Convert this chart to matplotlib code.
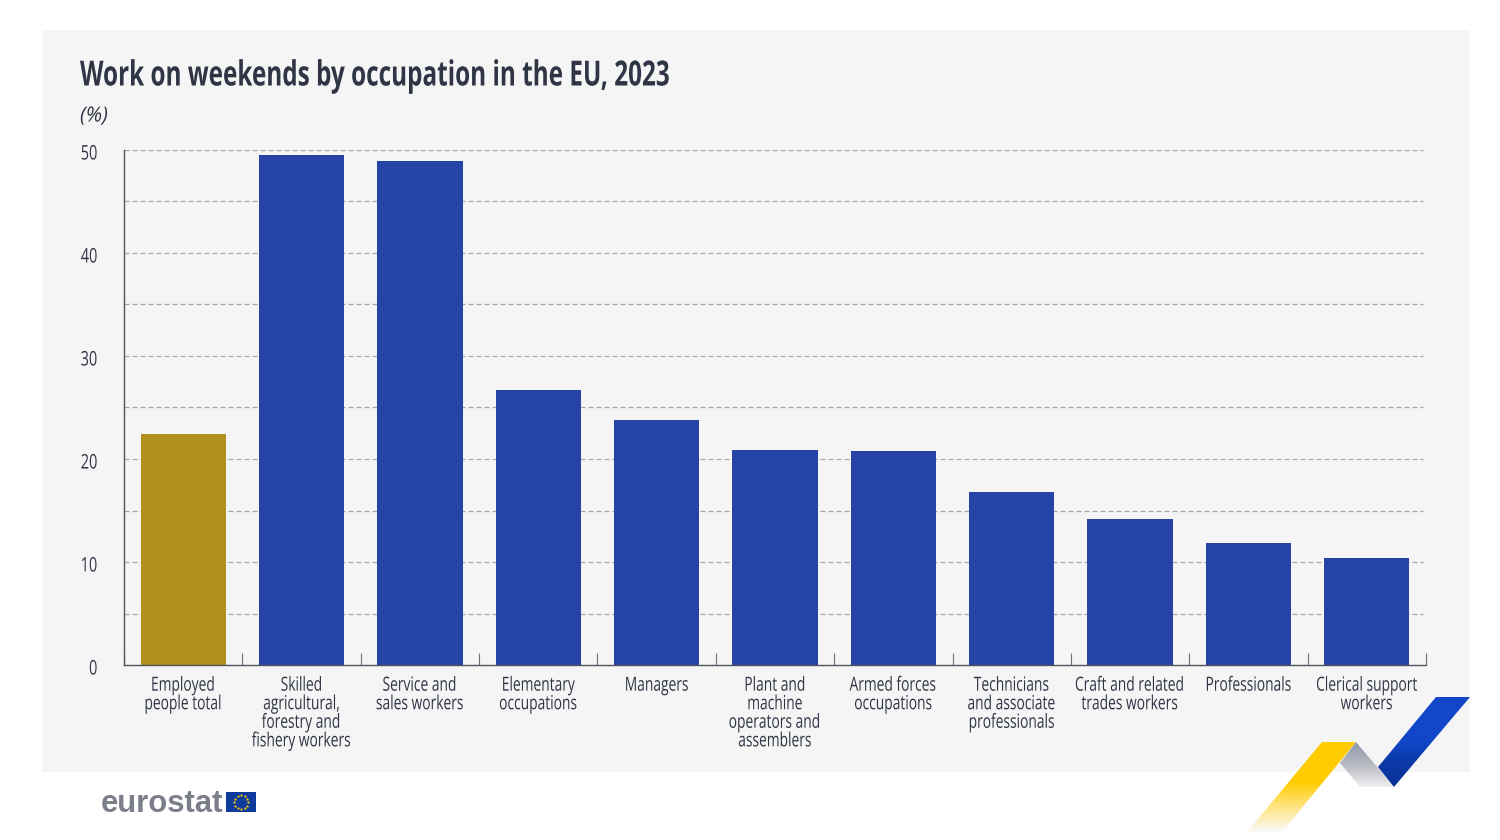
import numpy as np
import matplotlib
matplotlib.use("Agg")
import matplotlib.pyplot as plt
import matplotlib.patheffects as pe
from matplotlib.patches import Polygon, Rectangle
from matplotlib.colors import LinearSegmentedColormap
from matplotlib.transforms import Affine2D, Bbox, ScaledTranslation

# data
categories = ["Employed\npeople total", "Skilled\nagricultural,\nforestry and\nfishery workers",
              "Service and\nsales workers", "Elementary\noccupations", "Managers",
              "Plant and\nmachine\noperators and\nassemblers", "Armed forces\noccupations",
              "Technicians\nand associate\nprofessionals", "Craft and related\ntrades workers",
              "Professionals", "Clerical support\nworkers"]
values = [22.4, 49.5, 48.9, 26.7, 23.8, 20.9, 20.8, 16.8, 14.2, 11.8, 10.4]
major_ticks = [0, 10, 20, 30, 40, 50]
grid_levels = [5, 10, 15, 20, 25, 30, 35, 40, 45, 50]

plt.rcParams["font.family"] = ["Open Sans", "DejaVu Sans"]

W, H = 1500, 840
text_col = "#2f3545"


# no condensed font here, so squeeze the glyph outlines sideways
class Squeeze(pe.AbstractPathEffect):
    def __init__(self, k, anchor):
        super().__init__()
        self.k = k
        self.anchor = anchor

    def draw_path(self, renderer, gc, tpath, affine, rgbFace=None):
        ext = tpath.get_extents()
        px = ext.x0 + self.anchor * ext.width
        squeezed = Affine2D().translate(-px, 0).scale(self.k, 1).translate(px, 0) + affine
        renderer.draw_path(gc, tpath, squeezed, rgbFace)


def condense(t, k, anchor=0.5):
    t.set_path_effects([Squeeze(k, anchor)])
    orig = t.get_window_extent

    def extent(*a, **kw):
        b = orig(*a, **kw)
        x0 = b.x0 + (1 - k) * anchor * b.width
        return Bbox.from_extents(x0, b.y0, x0 + k * b.width, b.y1)
    t.get_window_extent = extent
    return t


fig = plt.figure(figsize=(W / 100, H / 100), dpi=100, facecolor="white")

# overlay in pixel coordinates for background, ribbons and logo
bg = fig.add_axes([0, 0, 1, 1], zorder=0)
bg.set_xlim(0, W)
bg.set_ylim(H, 0)
bg.axis("off")
bg.add_patch(Rectangle((42, 30), 1428, 742, fc="#f5f5f5", ec="none"))

# chart
ax = fig.add_axes([124 / W, 1 - 665 / H, 1302 / W, 515 / H], zorder=1)
ax.patch.set_alpha(0)
x = np.arange(len(values))
colors = ["#b09120"] + ["#2644a7"] * (len(values) - 1)
ax.bar(x, values, width=0.72, color=colors, zorder=3)
ax.set_xlim(-0.5, len(values) - 0.5)
ax.set_ylim(0, 50)
for g in grid_levels:
    ax.axhline(g, xmax=0.998, color="#a5a5a5", lw=0.9, dashes=(4, 2.4), zorder=1)
for s in ["top", "right"]:
    ax.spines[s].set_visible(False)
for s in ["left", "bottom"]:
    ax.spines[s].set_color("#50535f")
    ax.spines[s].set_linewidth(1)
ax.spines["bottom"].set_zorder(4)
ax.set_yticks(major_ticks)
ax.tick_params(axis="y", length=0, pad=19, labelsize=14.5, labelcolor=text_col)
shift = ScaledTranslation(0, -2 / 100, fig.dpi_scale_trans)
for lab in ax.get_yticklabels():
    lab.set_transform(lab.get_transform() + shift)
    condense(lab, 0.72, 1)
ax.set_xticks(np.arange(len(values) + 1) - 0.5)
ax.set_xticklabels([])
ax.tick_params(axis="x", length=8.6, width=0.8, color="#6d7180", direction="in")
for i, c in enumerate(categories):
    t = ax.annotate(c, (i, 0), xytext=(0, -8.4), textcoords="offset points", ha="center", va="top",
                    fontsize=14, color=text_col, linespacing=1.04, annotation_clip=False)
    condense(t, 0.71)

# title
condense(bg.text(80, 76.5, "Work on weekends by occupation in the EU, 2023", fontsize=25, fontweight="bold",
                 color=text_col, va="center", ha="left"), 0.70, 0)
condense(bg.text(80, 116, "(%)", fontsize=15, style="italic", color=text_col, va="center", ha="left"), 0.98, 0)


def ribbon(points, stops, y0, y1):
    cmap = LinearSegmentedColormap.from_list("r", stops)
    xs = [p[0] for p in points]
    im = bg.imshow(np.linspace(0, 1, 256).reshape(-1, 1), cmap=cmap, aspect="auto",
                   extent=(min(xs), max(xs), y1, y0), zorder=2)
    poly = Polygon(points, closed=True, fc="none", ec="none", transform=bg.transData)
    bg.add_patch(poly)
    im.set_clip_path(poly)


ribbon([(1322, 742), (1356, 742), (1282, 832), (1247, 832)],
       [(0, "#ffcc00"), (0.45, "#ffcc00"), (0.7, "#ffe27a"), (1, "#fafafa")], 742, 832)
ribbon([(1356, 742), (1394, 787), (1360, 787), (1340, 763)],
       [(0, "#8f96ab"), (0.5, "#b8bac2"), (1, "#f0f0f0")], 742, 787)
ribbon([(1436, 697), (1470, 697), (1394, 787), (1378, 767)],
       [(0, "#1147c8"), (0.5, "#1147c8"), (0.7, "#0a3aa8"), (1, "#0a3296")], 697, 787)
bg.set_xlim(0, W)
bg.set_ylim(H, 0)

# logo
bg.text(101, 804, "eurostat", family="Liberation Sans", fontweight="bold", fontsize=22.3,
        color="#7b7f8a", va="center", ha="left")
bg.add_patch(Rectangle((226, 792), 30, 20, fc="#0e3b9c", ec="none"))
angles = np.arange(12) * 2 * np.pi / 12
bg.scatter(241 + 7 * np.cos(angles), 802 + 7 * np.sin(angles), s=3, marker="*", color="#ffcc00", lw=0.3, zorder=3)

fig.savefig("out.png", dpi=100, facecolor="white")
